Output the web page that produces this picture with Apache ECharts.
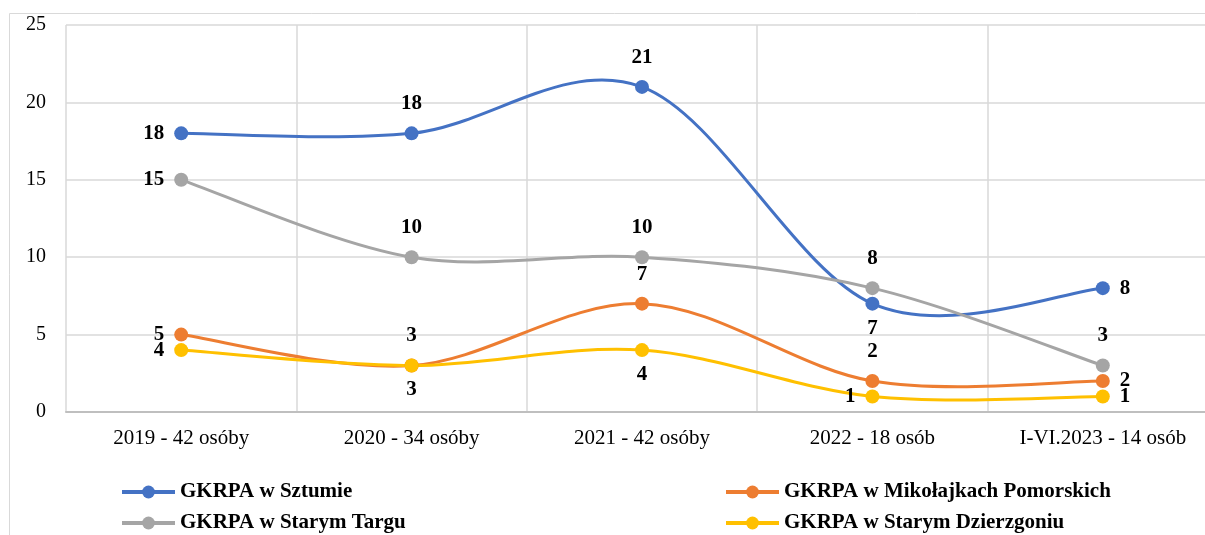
<!DOCTYPE html>
<html>
<head>
<meta charset="utf-8">
<script src="https://cdn.jsdelivr.net/npm/echarts@6/dist/echarts.min.js"></script>
<style>
  html, body { margin: 0; padding: 0; background: #fff; overflow: hidden; }
  /* obszar wykresu wychodzi troche poza prawa krawedz, jak w oryginale */
  #chart { width: 1218px; height: 535px; }
</style>
</head>
<body>
<div id="chart"></div>
<script>
// dane
const categories = ['2019 - 42 osóby', '2020 - 34 osóby', '2021 - 42 osóby', '2022 - 18 osób', 'I-VI.2023 - 14 osób'];
const sztum = [18, 18, 21, 7, 8];
const mikolajki = [5, 3, 7, 2, 2];
const staryTarg = [15, 10, 10, 8, 3];
const staryDzierzgon = [4, 3, 4, 1, 1];

// gdzie stoi etykieta przy kazdym punkcie
const posSztum = ['left', 'top', 'top', 'bottom', 'right'];
const posMikolajki = ['left', 'top', 'top', 'top', 'right'];
const posTarg = ['left', 'top', 'top', 'top', 'top'];
const posDzierzgon = ['left', 'bottom', 'bottom', 'left', 'right'];

const font = '"Liberation Serif", "Times New Roman", serif';

function withLabels(values, positions) {
  return values.map((v, i) => ({
    value: v,
    label: { position: positions[i], distance: positions[i] === 'top' ? 12 : (positions[i] === 'bottom' ? 7 : 10) }
  }));
}

// punkty + etykiety (linia rysowana osobno, wygladzona jak w Excelu)
function pointSeries(name, color, values, positions) {
  return {
    name: name,
    type: 'line',
    z: 3,
    symbol: 'circle',
    symbolSize: 14,
    lineStyle: { width: 3, color: color, opacity: 0 },
    itemStyle: { color: color },
    label: {
      show: true,
      color: '#000',
      fontFamily: font,
      fontWeight: 'bold',
      fontSize: 21
    },
    data: withLabels(values, positions)
  };
}

// krzywa Beziera miedzy kolejnymi punktami (styczne jak Catmull-Rom / 6)
function curveSeries(color, values) {
  const n = values.length;
  return {
    name: 'krzywa',
    type: 'custom',
    z: 2,
    silent: true,
    data: values.map((v, i) => [i, v]),
    renderItem: function (params, api) {
      const i = params.dataIndex;
      if (i >= n - 1) return null;
      const p = k => api.coord([Math.max(0, Math.min(n - 1, k)), values[Math.max(0, Math.min(n - 1, k))]]);
      const p0 = p(i - 1), p1 = p(i), p2 = p(i + 1), p3 = p(i + 2);
      return {
        type: 'bezierCurve',
        shape: {
          x1: p1[0], y1: p1[1],
          cpx1: p1[0] + (p2[0] - p0[0]) / 6, cpy1: p1[1] + (p2[1] - p0[1]) / 6,
          cpx2: p2[0] - (p3[0] - p1[0]) / 6, cpy2: p2[1] - (p3[1] - p1[1]) / 6,
          x2: p2[0], y2: p2[1]
        },
        style: { stroke: color, lineWidth: 3, fill: null }
      };
    }
  };
}

const myChart = echarts.init(document.getElementById('chart'));
const legendText = { color: '#000', fontFamily: font, fontWeight: 'bold', fontSize: 21, lineHeight: 22 };
const legendBase = {
  orient: 'vertical',
  top: 481,
  padding: 0,
  itemWidth: 53,
  itemHeight: 16,
  itemGap: 9,
  lineStyle: { opacity: 1, width: 4 },
  textStyle: legendText
};
const option = {
  animation: false,
  color: ['#4472C4', '#ED7D31', '#A5A5A5', '#FFC000'],
  graphic: [{
    type: 'rect',
    shape: { x: 9.5, y: 13.5, width: 1300, height: 600 },
    style: { fill: 'none', stroke: '#d9d9d9', lineWidth: 1 },
    silent: true
  }],
  grid: { left: 66, right: 0, top: 25, bottom: 123 },
  legend: [
    Object.assign({}, legendBase, { left: 120, data: ['GKRPA w Sztumie', 'GKRPA w Starym Targu'] }),
    Object.assign({}, legendBase, { left: 724, data: ['GKRPA w Mikołajkach Pomorskich', 'GKRPA w Starym Dzierzgoniu'] })
  ],
  xAxis: {
    type: 'category',
    data: categories,
    boundaryGap: true,
    axisLine: { lineStyle: { color: '#bfbfbf', width: 2 } },
    axisTick: { show: false },
    splitLine: { show: true, lineStyle: { color: '#d9d9d9', width: 1.5 } },
    axisLabel: { color: '#000', fontFamily: font, fontSize: 21, margin: 16 }
  },
  yAxis: {
    type: 'value',
    min: 0,
    max: 25,
    interval: 5,
    axisLine: { show: false },
    axisTick: { show: false },
    splitLine: { lineStyle: { color: '#d9d9d9', width: 1.5 } },
    axisLabel: { color: '#000', fontFamily: font, fontSize: 20, margin: 20 }
  },
  series: [
    curveSeries('#4472C4', sztum),
    curveSeries('#ED7D31', mikolajki),
    curveSeries('#A5A5A5', staryTarg),
    curveSeries('#FFC000', staryDzierzgon),
    pointSeries('GKRPA w Sztumie', '#4472C4', sztum, posSztum),
    pointSeries('GKRPA w Mikołajkach Pomorskich', '#ED7D31', mikolajki, posMikolajki),
    pointSeries('GKRPA w Starym Targu', '#A5A5A5', staryTarg, posTarg),
    pointSeries('GKRPA w Starym Dzierzgoniu', '#FFC000', staryDzierzgon, posDzierzgon)
  ]
};
myChart.setOption(option);
window.addEventListener('resize', function () {
  myChart.resize();
});
</script>
</body>
</html>
